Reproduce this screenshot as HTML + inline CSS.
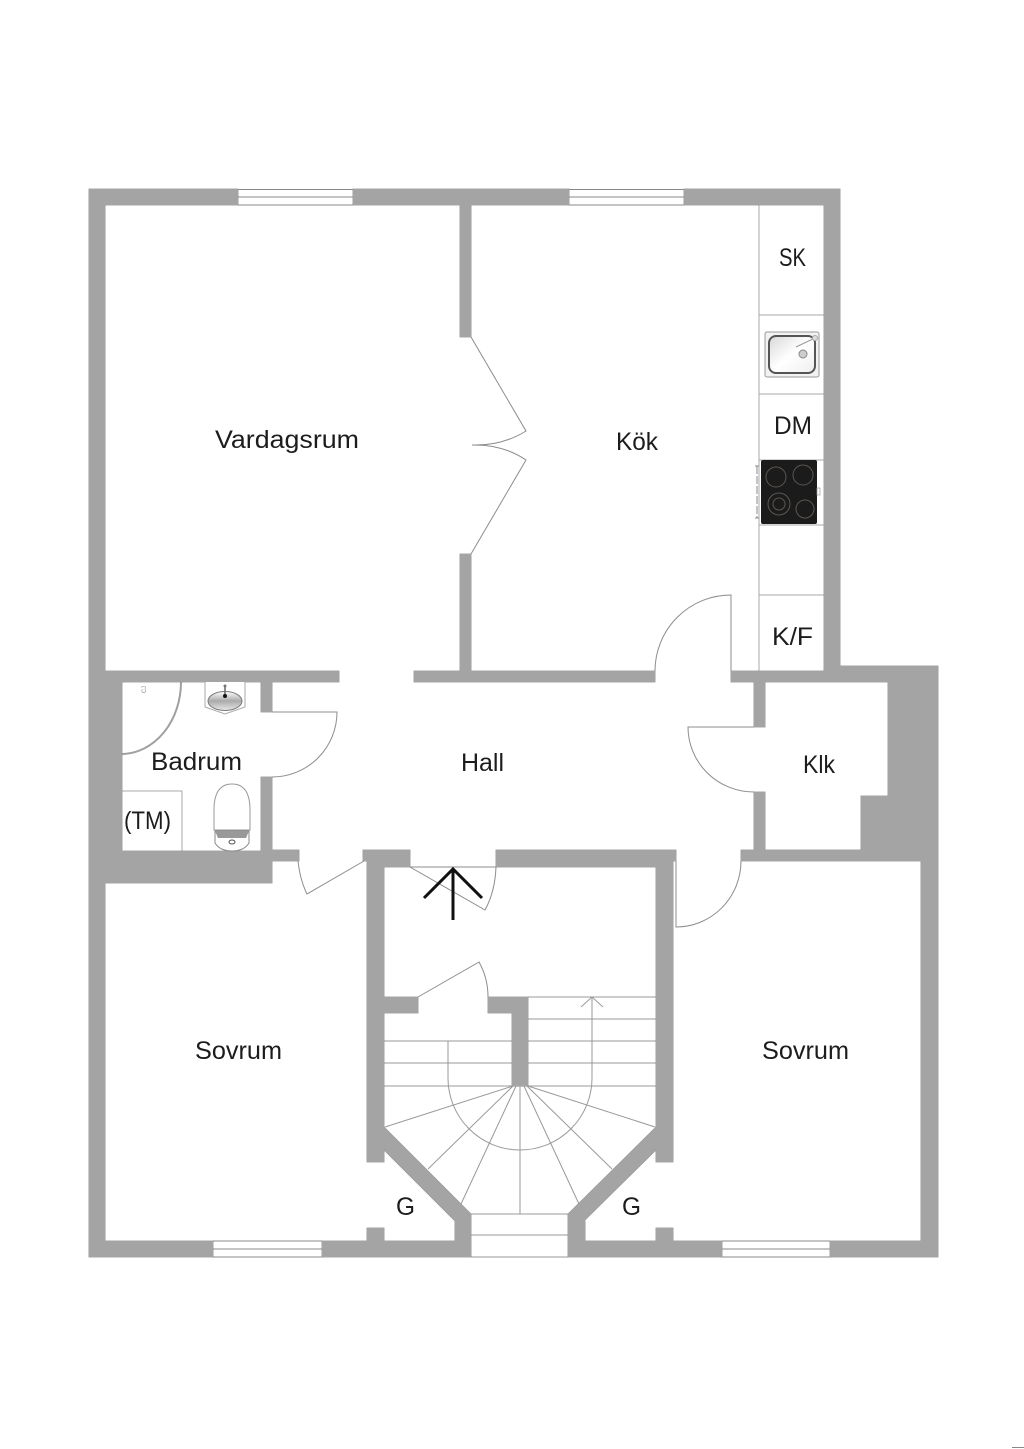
<!DOCTYPE html>
<html lang="sv">
<head>
<meta charset="utf-8">
<title>Planritning</title>
<style>
html,body{margin:0;padding:0;background:#fff}
svg{display:block}
text{font-family:"Liberation Sans",sans-serif;font-size:25px;fill:#1c1c1c}
</style>
</head>
<body>
<svg xmlns="http://www.w3.org/2000/svg" width="1024" height="1449" viewBox="0 0 1024 1449">
<defs>
<linearGradient id="bowl" x1="0" y1="0" x2="0" y2="1"><stop offset="0" stop-color="#fff"/><stop offset=".5" stop-color="#aaa"/><stop offset="1" stop-color="#e8e8e8"/></linearGradient>
<linearGradient id="sinkg" x1="0" y1="0" x2="1" y2="1"><stop offset="0" stop-color="#d8d8d8"/><stop offset=".5" stop-color="#fff"/><stop offset="1" stop-color="#eee"/></linearGradient>
<path id="w" d="
M89 189H238V205H89Z M353 189H569V205H353Z M684 189H840V205H684Z
M89 189H105V1257H89Z M824 189H840V682H824Z
M460 205H471V337H460Z M460 554H471V671H460Z
M105 671H339V682H105Z M414 671H655V682H414Z M731 671H840V682H731Z
M840 666H938V1257H830V1241H921V861H741V850H861V796H888V682H840Z
M754 682H765V727H754Z M754 792H765V850H754Z
M89 671H122V883H89Z M105 851H272V883H105Z M261 682H272V712H261Z M261 777H272V851H261Z M272 850H299V861H272Z
M89 1241H213V1257H89Z M322 1241H471V1257H322Z M367 1228H384V1241H367Z
M367 861H363V850H410V867H384V1127L471 1214V1257H455V1221L384 1150V1162H367Z
M676 850H496V867H656V1127L568 1214V1257H585V1220L656 1150V1162H673V861H676Z
M585 1241H722V1257H585Z M656 1228H673V1241H656Z
M488 997H528V1013H488Z M512 997H528V1086H512Z M384 997H418V1013H384Z"/>
</defs>

<rect width="1024" height="1449" fill="#fff"/>

<!-- stairs -->
<g fill="none" stroke="#999" stroke-width="1">
<path d="M528 997H656M528 1019H656M528 1041H656M528 1063H656M384 1086H656M384 1041H512M384 1063H512"/>
<path d="M471 1214H568M471 1235H568M471 1257H568"/>
<path d="M513 1086L385 1127M513 1086L428 1169M516 1086L461 1204M520 1086V1214M524 1086L579 1204M527 1086L612 1169M528 1086L655 1127"/>
<path d="M448 1041V1078A72 72 0 0 0 592 1078V997M581 1007L592 997L603 1007"/>
</g>

<!-- windows -->
<g fill="none" stroke="#888" stroke-width="1">
<path d="M238 189.500H353M238 197H353M238 205H353"/>
<path d="M569 189.500H684M569 197H684M569 205H684"/>
<path d="M213 1241H322M213 1249H322M213 1257H322"/>
<path d="M722 1241H830M722 1249H830M722 1257H830"/>
</g>

<!-- kitchen cabinets -->
<path d="M759 205V671M759 315H824M759 394H824M759 460H824M759 525H824M759 595H824" fill="none" stroke="#aaa" stroke-width="1"/>

<!-- bathroom box and shower -->
<path d="M122 791H182V851" fill="none" stroke="#aaa" stroke-width="1"/>
<path d="M181 682A60 72 0 0 1 122 754" fill="none" stroke="#a0a0a0" stroke-width="2"/>

<!-- walls -->
<use href="#w" fill="#888" stroke="#888" stroke-width="0.800"/>
<use href="#w" fill="#a4a4a4"/>

<!-- doors -->
<g fill="none" stroke="#8c8c8c" stroke-width="1">
<path d="M471 337L526 431Q502 446 472 445Q502 444 526 460L471 554"/>
<path d="M655 671A76 76 0 0 1 731 595V671"/>
<path d="M754 727H688A66 65 0 0 0 754 792"/>
<path d="M676 861V927A65 66 0 0 0 741 861"/>
<path d="M272 712H337A65 65 0 0 1 272 777"/>
<path d="M298 861Q300 880 307 894L364 861"/>
<path d="M410 867H496Q495 892 485 910L410 867"/>
<path d="M418 997L479 962Q488 978 488 997"/>
</g>

<!-- entry arrow -->
<path d="M424 898L453 869L482 898M453 869V920" fill="none" stroke="#111" stroke-width="3"/>

<!-- sink -->
<g>
<rect x="765" y="332" width="54" height="45" rx="2" fill="#f2f2f2" stroke="#999"/>
<rect x="769" y="336" width="46" height="37" rx="7" fill="url(#sinkg)" stroke="#555" stroke-width="2"/>
<circle cx="803" cy="354" r="4" fill="#ccc" stroke="#888"/>
<path d="M796 347L815 338" stroke="#999" fill="none"/>
<circle cx="815" cy="338" r="2.500" fill="#ddd" stroke="#aaa"/>
</g>

<!-- stove -->
<g>
<rect x="761" y="460" width="56" height="64" rx="2" fill="#1b1b1b"/>
<g fill="none" stroke="#5c5650" stroke-width="1">
<circle cx="776" cy="477" r="10"/>
<circle cx="803" cy="475" r="10"/>
<circle cx="779" cy="504" r="11"/><circle cx="779" cy="504" r="6"/>
<circle cx="805" cy="509" r="9"/>
</g>
<path d="M757 466V518M755 466H759M755 518H759" fill="none" stroke="#888" stroke-dasharray="8 2"/>
<rect x="817" y="488" width="3" height="7" fill="#fff" stroke="#999" stroke-width=".7"/>
</g>

<!-- basin -->
<g>
<path d="M205 682V707L225 714L245 707V682" fill="#fff" stroke="#aaa"/>
<ellipse cx="225" cy="701" rx="17" ry="9.500" fill="url(#bowl)" stroke="#777"/>
<path d="M225 686V696" stroke="#666" stroke-width="1.500"/>
<circle cx="225" cy="686" r="1.500" fill="#777"/>
<circle cx="225" cy="696" r="2" fill="#111"/>
</g>

<!-- toilet -->
<g>
<path d="M214 830V810Q214 784 232 784Q250 784 250 810V830Z" fill="#fff" stroke="#999"/>
<path d="M215 831H249V843Q244 851 232 851Q220 851 215 843Z" fill="#fff" stroke="#888"/>
<path d="M215 831H249L246 838H218Z" fill="#999"/>
<ellipse cx="232" cy="842" rx="3" ry="2" fill="#fff" stroke="#555"/>
</g>
<text x="141" y="692" style="font-size:6px;fill:#888" textLength="7" lengthAdjust="spacingAndGlyphs" transform="rotate(-90 144 690)">CJ</text>

<!-- labels -->
<text x="215" y="448" textLength="144" lengthAdjust="spacingAndGlyphs">Vardagsrum</text>
<text x="616" y="450" textLength="42" lengthAdjust="spacingAndGlyphs">Kök</text>
<text x="779" y="266" textLength="27" lengthAdjust="spacingAndGlyphs">SK</text>
<text x="774" y="434" textLength="38" lengthAdjust="spacingAndGlyphs">DM</text>
<text x="772" y="645" textLength="41" lengthAdjust="spacingAndGlyphs">K/F</text>
<text x="461" y="771" textLength="43" lengthAdjust="spacingAndGlyphs">Hall</text>
<text x="803" y="773" textLength="32" lengthAdjust="spacingAndGlyphs">Klk</text>
<text x="151" y="770" textLength="91" lengthAdjust="spacingAndGlyphs">Badrum</text>
<text x="124" y="829" textLength="47" lengthAdjust="spacingAndGlyphs">(TM)</text>
<text x="195" y="1059" textLength="87" lengthAdjust="spacingAndGlyphs">Sovrum</text>
<text x="762" y="1059" textLength="87" lengthAdjust="spacingAndGlyphs">Sovrum</text>
<text x="396" y="1215" textLength="19" lengthAdjust="spacingAndGlyphs">G</text>
<text x="622" y="1215" textLength="19" lengthAdjust="spacingAndGlyphs">G</text>

<path d="M1012 1447.500H1024" stroke="#888" stroke-width="1"/>
</svg>
</body>
</html>
